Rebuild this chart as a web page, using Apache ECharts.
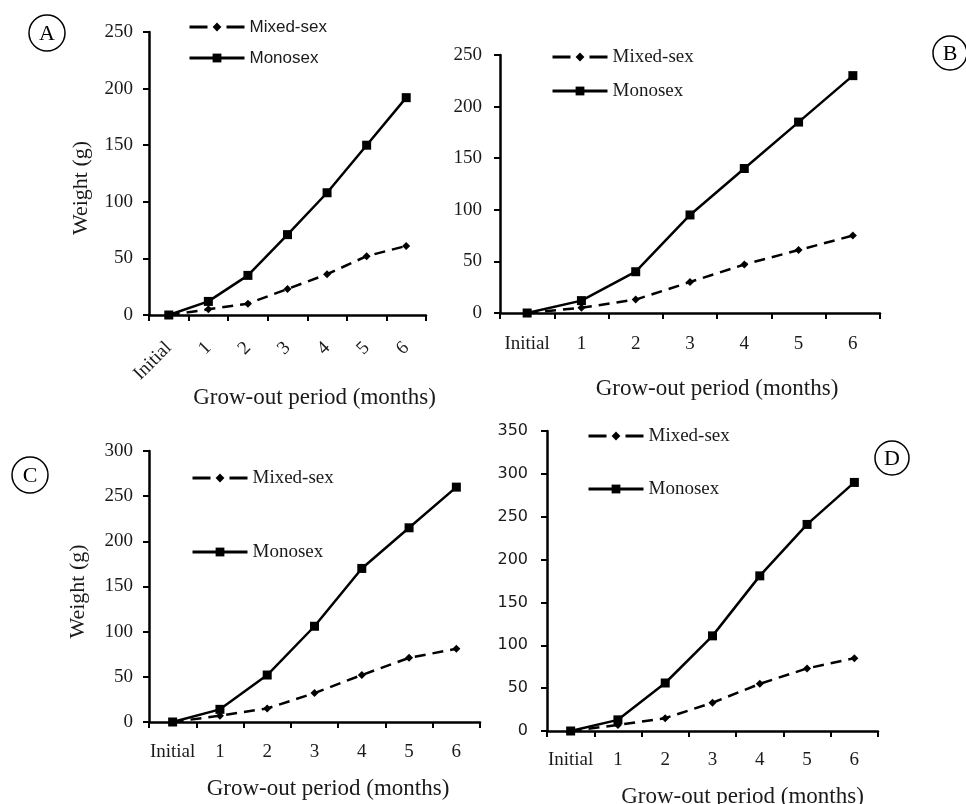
<!DOCTYPE html>
<html>
<head>
<meta charset="utf-8">
<script src="https://cdn.jsdelivr.net/npm/echarts@6/dist/echarts.min.js"></script>
<style>html,body{margin:0;padding:0;background:#fff;}#c{width:966px;height:804px;}</style>
</head>
<body>
<div id="c"></div>
<script>
// ---- data ----
const categories = ['Initial', '1', '2', '3', '4', '5', '6'];
const A_mixed = [0, 5, 10, 23, 36, 52, 61];
const A_mono  = [0, 12, 35, 71, 108, 150, 192];
const B_mixed = [0, 5, 13, 30, 47, 61, 75];
const B_mono  = [0, 12, 40, 95, 140, 185, 230];
const C_mixed = [0, 7, 15, 32, 52, 71, 81];
const C_mono  = [0, 14, 52, 106, 170, 215, 260];
const D_mixed = [0, 7, 15, 33, 55, 73, 85];
const D_mono  = [0, 13, 56, 111, 181, 241, 290];
const yMax = [250, 250, 300, 350];
const seriesNames = ['Mixed-sex', 'Monosex'];
const xTitle = 'Grow-out period (months)';
const yTitle = 'Weight (g)';
const panelLetters = ['A', 'B', 'C', 'D'];

// ---- styling ----
const SERIF = '"Liberation Serif", "Times New Roman", serif';
const SANS = '"Liberation Sans", Arial, sans-serif';
const TXT = '#1a1a1a';

const grids = [
  {left: 149, top: 32, width: 277, height: 283},
  {left: 500, top: 55, width: 380, height: 258},
  {left: 149, top: 451, width: 331, height: 271},
  {left: 547, top: 431, width: 331, height: 300}
];
const xLabelCfg = [
  {rotate: 45, margin: 30},
  {rotate: 0, margin: 22},
  {rotate: 0, margin: 21},
  {rotate: 0, margin: 20}
];
const xNameCfg = [
  {gap: 70, pad: 54},
  {gap: 64, pad: 54},
  {gap: 55, pad: 27},
  {gap: 54, pad: 60}
];
const yLabelCfg = [
  {margin: 16, font: SERIF, size: 19},
  {margin: 18, font: SERIF, size: 19},
  {margin: 16, font: SERIF, size: 19},
  {margin: 19, font: '"DejaVu Sans", Verdana, sans-serif', size: 16}
];
const yNameCfg = [
  {show: true, gap: 57, pad: 29},
  {show: false},
  {show: true, gap: 60, pad: 10},
  {show: false}
];
const legendCfg = [
  {left: 188, top: 17, gap: 11, w: 55, font: SANS, size: 17},
  {left: 551, top: 47, gap: 14, w: 55, font: SERIF, size: 19},
  {left: 191, top: 468, gap: 54, w: 55, font: SERIF, size: 19},
  {left: 587, top: 426, gap: 33, w: 55, font: SERIF, size: 19}
];
const circles = [
  {x: 47, y: 33, r: 18},
  {x: 950, y: 53, r: 17},
  {x: 30, y: 475, r: 18},
  {x: 892, y: 458, r: 17}
];
const mixedData = [A_mixed, B_mixed, C_mixed, D_mixed];
const monoData = [A_mono, B_mono, C_mono, D_mono];

const option = {
  backgroundColor: '#fff',
  animation: false,
  grid: grids.map(g => Object.assign({outerBoundsMode: 'none', containLabel: false}, g)),
  xAxis: grids.map((g, i) => ({
    type: 'category', gridIndex: i, data: categories, boundaryGap: true,
    axisLine: {show: true, lineStyle: {color: '#000', width: 2.5}},
    axisTick: {show: true, interval: 0, length: 6, lineStyle: {color: '#000', width: 2}},
    axisLabel: {interval: 0, rotate: xLabelCfg[i].rotate, margin: xLabelCfg[i].margin,
      fontFamily: SERIF, fontSize: 19, color: TXT},
    splitLine: {show: false},
    name: xTitle, nameLocation: 'middle', nameGap: xNameCfg[i].gap,
    nameTextStyle: {fontFamily: SERIF, fontSize: 23, color: TXT, padding: [0, 0, 0, xNameCfg[i].pad]}
  })),
  yAxis: grids.map((g, i) => ({
    type: 'value', gridIndex: i, min: 0, max: yMax[i], interval: 50,
    axisLine: {show: true, lineStyle: {color: '#000', width: 2.5}},
    axisTick: {show: true, length: 6, lineStyle: {color: '#000', width: 2}},
    axisLabel: {margin: yLabelCfg[i].margin, fontFamily: yLabelCfg[i].font, fontSize: yLabelCfg[i].size, color: TXT},
    splitLine: {show: false},
    name: yNameCfg[i].show ? yTitle : '', nameLocation: 'middle', nameGap: yNameCfg[i].gap || 0,
    nameTextStyle: {fontFamily: SERIF, fontSize: 22, color: TXT, padding: [0, yNameCfg[i].pad || 0, 0, 0]}
  })),
  legend: legendCfg.map(l => ({
    orient: 'vertical', left: l.left, top: l.top, itemGap: l.gap, padding: 0,
    itemWidth: l.w, itemHeight: 11, selectedMode: false,
    data: [
      {name: seriesNames[0], lineStyle: {type: [18, 19], width: 3}},
      {name: seriesNames[1], lineStyle: {width: 3}}
    ],
    textStyle: {fontFamily: l.font, fontSize: l.size, color: TXT, lineHeight: 20}
  })),
  series: [],
  graphic: []
};

for (let i = 0; i < 4; i++) {
  option.series.push({
    name: seriesNames[0], type: 'line', xAxisIndex: i, yAxisIndex: i,
    data: mixedData[i], symbol: 'diamond', symbolSize: 8,
    lineStyle: {color: '#000', width: 2.5, type: [11, 7]},
    itemStyle: {color: '#000'}
  });
  option.series.push({
    name: seriesNames[1], type: 'line', xAxisIndex: i, yAxisIndex: i,
    data: monoData[i], symbol: 'rect', symbolSize: 9,
    lineStyle: {color: '#000', width: 2.5},
    itemStyle: {color: '#000'}
  });
  const c = circles[i];
  option.graphic.push({
    type: 'circle', shape: {cx: c.x, cy: c.y, r: c.r},
    style: {fill: '#fff', stroke: '#000', lineWidth: 1.5}
  });
  option.graphic.push({
    type: 'text', x: c.x, y: c.y + 1,
    style: {text: panelLetters[i], fontFamily: SERIF, fontSize: 22, fill: '#000',
      textAlign: 'center', textVerticalAlign: 'middle'}
  });
}

const chart = echarts.init(document.getElementById('c'), null, {renderer: 'canvas'});
chart.setOption(option);
</script>
</body>
</html>
